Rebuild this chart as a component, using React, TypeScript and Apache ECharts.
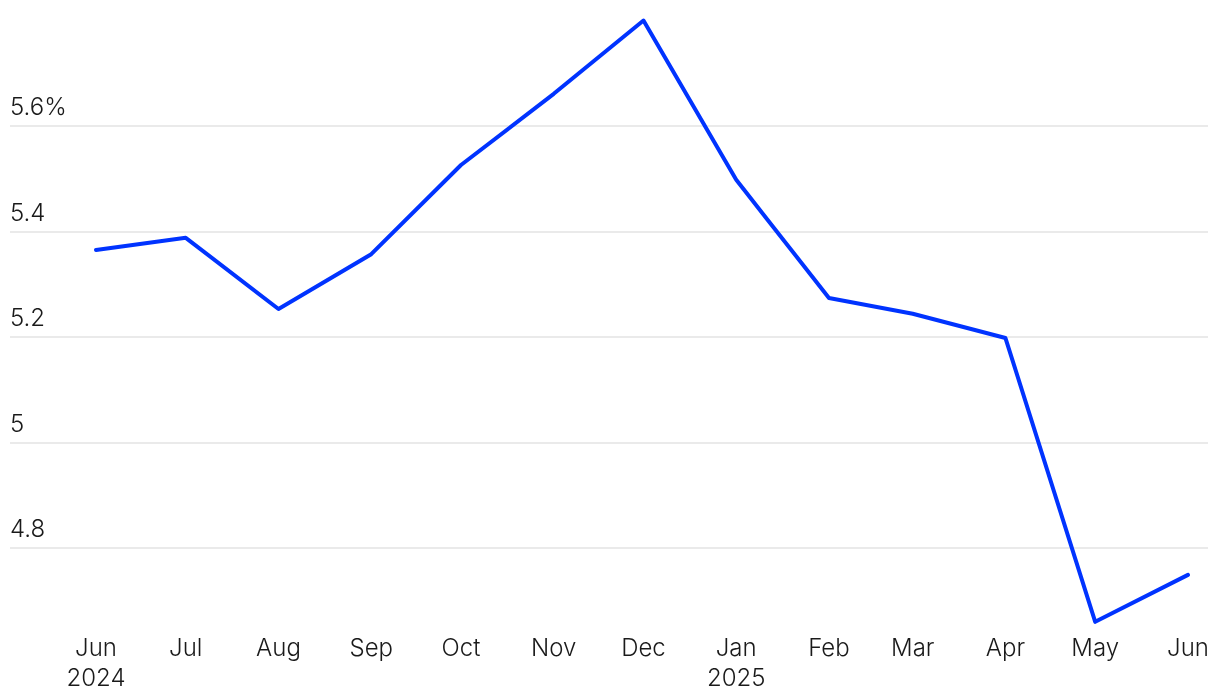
import React, { useEffect, useRef } from 'react';
import * as echarts from 'echarts';

const months = ['2024-06', '2024-07', '2024-08', '2024-09', '2024-10', '2024-11', '2024-12', '2025-01', '2025-02', '2025-03', '2025-04', '2025-05', '2025-06'];
const rates = [5.365, 5.388, 5.253, 5.357, 5.526, 5.661, 5.8, 5.498, 5.274, 5.244, 5.198, 4.66, 4.749];
const monthLabels = ['Jun\n2024', 'Jul', 'Aug', 'Sep', 'Oct', 'Nov', 'Dec', 'Jan\n2025', 'Feb', 'Mar', 'Apr', 'May', 'Jun'];
const yTicks = [4.8, 5, 5.2, 5.4, 5.6];
const yTickLabels = ['4.8', '5', '5.2', '5.4', '5.6%'];

const toTs = (m: string) => {
  const [y, mo] = m.split('-').map(Number);
  return Date.UTC(y, mo - 1, 1);
};

const DAY = 86400000;
const FONT = 'Inter, "Liberation Sans", sans-serif';

export default function App() {
  const ref = useRef<HTMLDivElement>(null);
  useEffect(() => {
    if (!ref.current) return;
    const chart = echarts.init(ref.current, undefined, { renderer: 'svg' });
    const ts = months.map(toTs);
    const data = ts.map((t, i) => [t, rates[i]]);
    chart.setOption({
      animation: false,
      grid: { left: 10, right: 12, top: 20.5, height: 606.6, containLabel: false },
      xAxis: {
        type: 'value',
        min: ts[0] - 28.75 * DAY,
        max: ts[ts.length - 1] + 6.7 * DAY,
        axisLine: { show: false },
        axisTick: { show: false, customValues: ts },
        splitLine: { show: false },
        axisLabel: {
          customValues: ts,
          formatter: (v: number) => {
            const i = ts.indexOf(v);
            return i >= 0 ? monthLabels[i] : '';
          },
          color: '#1a1a1a',
          fontSize: 24,
          fontWeight: 300,
          fontFamily: FONT,
          lineHeight: 30,
          margin: 5,
          hideOverlap: false,
        },
      },
      yAxis: {
        type: 'value',
        min: 4.65,
        max: 5.8,
        axisLine: { show: false },
        axisTick: { show: false, customValues: yTicks },
        splitLine: { show: true, lineStyle: { color: '#e3e3e3', width: 1.5 } },
        axisLabel: {
          customValues: yTicks,
          inside: true,
          margin: 0,
          align: 'left',
          verticalAlign: 'bottom',
          lineHeight: 24,
          padding: [0, 0, 7, 0],
          color: '#1a1a1a',
          fontSize: 24,
          fontWeight: 300,
          fontFamily: FONT,
          formatter: (v: number) => {
            const i = yTicks.findIndex((t) => Math.abs(t - v) < 1e-9);
            return i >= 0 ? yTickLabels[i] : '';
          },
        },
      },
      series: [
        {
          type: 'line',
          data,
          symbol: 'none',
          clip: false,
          lineStyle: { color: '#0033ff', width: 4, cap: 'round', join: 'round' },
        },
      ],
    });
    return () => chart.dispose();
  }, []);
  return <div ref={ref} style={{ position: 'fixed', left: 0, top: 0, width: 1220, height: 700 }} />;
}
